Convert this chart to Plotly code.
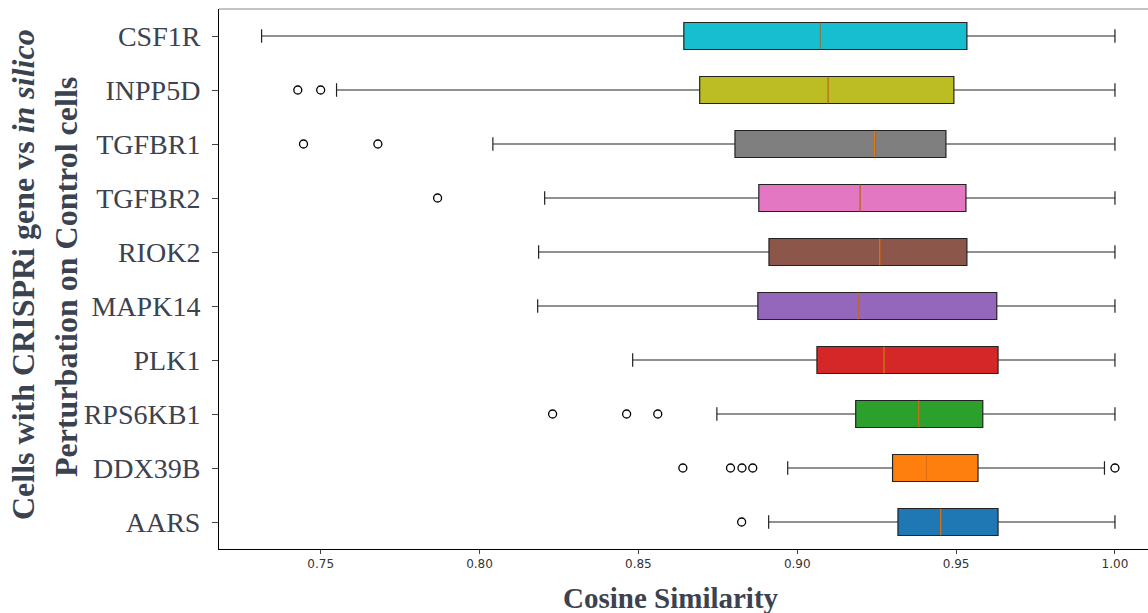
import plotly.graph_objects as go

genes = ["AARS", "DDX39B", "RPS6KB1", "PLK1", "MAPK14", "RIOK2", "TGFBR2", "TGFBR1", "INPP5D", "CSF1R"]
colors = ["#1f77b4", "#ff7f0e", "#2ca02c", "#d62728", "#9467bd", "#8c564b", "#e377c2", "#7f7f7f", "#bcbd22", "#17becf"]
lower = [0.891, 0.897, 0.8747, 0.8482, 0.8183, 0.8186, 0.8205, 0.8042, 0.755, 0.7314]
q1 = [0.9317, 0.930, 0.9184, 0.9062, 0.8876, 0.8911, 0.8879, 0.8804, 0.8693, 0.8643]
median = [0.9452, 0.9404, 0.9383, 0.9273, 0.9191, 0.926, 0.9197, 0.9244, 0.9096, 0.9071]
q3 = [0.9632, 0.9569, 0.9584, 0.9632, 0.9628, 0.9534, 0.9531, 0.9468, 0.9493, 0.9534]
upper = [1.0, 0.9967, 1.0, 1.0, 1.0, 1.0, 1.0, 1.0, 1.0, 1.0]
outliers = [
    [0.8825],
    [0.864, 0.879, 0.8826, 0.886, 1.0],
    [0.823, 0.8463, 0.8561],
    [],
    [],
    [],
    [0.7868],
    [0.7446, 0.768],
    [0.7428, 0.750],
    [],
]
x_ticks = [0.75, 0.80, 0.85, 0.90, 0.95, 1.00]

fig = go.Figure()
positions = list(range(1, len(genes) + 1))
for i, g in enumerate(genes):
    p = positions[i]
    fig.add_trace(go.Box(
        y=[p], q1=[q1[i]], median=[median[i]], q3=[q3[i]],
        lowerfence=[lower[i]], upperfence=[upper[i]],
        orientation="h", fillcolor=colors[i],
        line=dict(color="#222", width=1.2), width=0.5, whiskerwidth=0.5,
        boxpoints=False, showlegend=False, name=g,
    ))
    fig.add_trace(go.Scatter(
        x=[median[i], median[i]], y=[p - 0.245, p + 0.245], mode="lines",
        line=dict(color="#ff7f0e", width=1.3), showlegend=False, hoverinfo="skip",
    ))
    if outliers[i]:
        fig.add_trace(go.Scatter(
            x=outliers[i], y=[p] * len(outliers[i]), mode="markers",
            marker=dict(symbol="circle-open", size=8, color="black", line=dict(width=1.3)),
            showlegend=False,
        ))

title_color = "#3b4250"
fig.update_layout(
    width=1148, height=613,
    margin=dict(l=219, r=0, t=9, b=64),
    plot_bgcolor="white", paper_bgcolor="white",
    xaxis=dict(range=[0.718, 1.0104], tickvals=x_ticks, ticktext=[f"{v:.2f}" for v in x_ticks],
               showgrid=False, zeroline=False, ticks="outside", ticklen=4, tickcolor="#444",
               showline=True, linecolor="black", linewidth=1, automargin=False,
               tickfont=dict(family="DejaVu Sans", size=12, color="#333")),
    yaxis=dict(range=[0.5, 10.5], tickvals=positions, ticktext=genes,
               showgrid=False, zeroline=False, ticks="outside", ticklen=6, tickcolor="#444",
               showline=True, linecolor="black", linewidth=1, automargin=False,
               ticklabelstandoff=6,
               tickfont=dict(family="Liberation Serif", size=28, color=title_color)),
    shapes=[dict(type="line", xref="paper", yref="paper", x0=0, x1=1, y0=1, y1=1,
                 line=dict(color="#888", width=1))],
    annotations=[
        dict(text="<b>Cells with CRISPRi gene vs <i>in silico</i></b>", xref="paper", yref="paper",
             x=0, y=0.5, xshift=-196, yshift=4, textangle=-90, showarrow=False,
             xanchor="center", yanchor="middle",
             font=dict(family="Liberation Serif", size=32, color=title_color)),
        dict(text="<b>Perturbation on Control cells</b>", xref="paper", yref="paper",
             x=0, y=0.5, xshift=-153, yshift=2, textangle=-90, showarrow=False,
             xanchor="center", yanchor="middle",
             font=dict(family="Liberation Serif", size=32, color=title_color)),
        dict(text="<b>Cosine Similarity</b>", xref="paper", yref="paper",
             x=0.5, y=0, xshift=-13, yshift=-49, showarrow=False,
             xanchor="center", yanchor="middle",
             font=dict(family="Liberation Serif", size=29, color=title_color)),
    ],
)
fig.write_html("out.html", config={"displayModeBar": False},
               post_script="document.body.style.margin='0px';document.body.style.overflow='hidden';")
